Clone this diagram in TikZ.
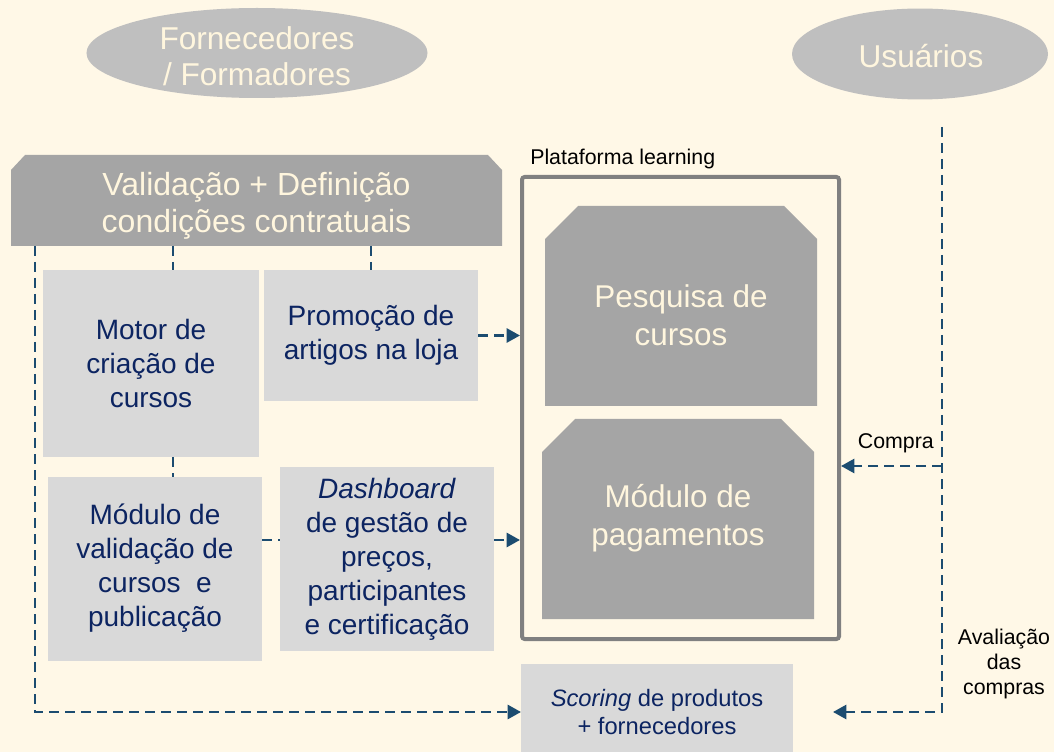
\documentclass[tikz,border=0pt]{standalone}
\usepackage{fontspec}
\setmainfont{Liberation Sans}
\usetikzlibrary{arrows.meta,backgrounds}
\definecolor{bgc}{RGB}{255,248,231}
\definecolor{ellg}{RGB}{191,191,191}
\definecolor{darkg}{RGB}{165,165,165}
\definecolor{lightg}{RGB}{217,217,217}
\definecolor{cream}{RGB}{255,246,222}
\definecolor{navy}{RGB}{12,36,97}
\definecolor{dashc}{RGB}{28,76,112}
\definecolor{framec}{RGB}{128,128,128}
\begin{document}
\begin{tikzpicture}[x=0.75pt,y=-0.75pt,
  lightbox/.style={fill=lightg, text=navy, inner sep=0pt, outer sep=0pt, align=center, font=\fontsize{21}{25.5}\selectfont},
  creamtxt/.style={text=cream, align=center, inner sep=0pt},
  dl/.style={draw=dashc, line width=2pt, dash pattern=on 7.5pt off 4.5pt},
  arr/.style={-{Triangle[length=10pt,width=10.5pt]}},
  lbl/.style={text=black, font=\fontsize{16}{18.75}\selectfont, inner sep=0pt, align=center}]
\useasboundingbox (0,0) rectangle (1054,752);
\begin{scope}[on background layer]
  \fill[bgc] (0,0) rectangle (1054,752);
\end{scope}
% ellipses
\fill[ellg] (257,53) ellipse [x radius=127.9pt, y radius=33.75pt];
\node[creamtxt, font=\fontsize{23.7}{27}\selectfont] (forn) at (257,56) {Fornecedores\\/ Formadores};
\fill[ellg] (920,54) ellipse [x radius=96pt, y radius=34.1pt];
\node[creamtxt, font=\fontsize{23.7}{27}\selectfont] (usu) at (921,56) {Usuários};
% top box
\node[creamtxt, outer sep=0pt, font=\fontsize{24}{27.75}\selectfont, minimum width=368.25pt, minimum height=68.25pt] (val) at (256.5,200.5)
  {\raisebox{-4.5pt}[\height][\depth]{\begin{tabular}{@{}c@{}}Validação + Definição\\condições contratuais\end{tabular}}};
\begin{scope}[on background layer]
  \fill[darkg] ([xshift=10.5pt]val.north west) -- ([xshift=-10.5pt]val.north east) -- ([yshift=-11.25pt]val.north east) -- (val.south east) -- (val.south west) -- ([yshift=-11.25pt]val.north west) -- cycle;
\end{scope}
% platform
\node[draw=framec, line width=3pt, rounded corners=2pt, minimum width=237.75pt, minimum height=346.5pt, inner sep=0pt] (plat) at (680.5,408) {};
\node[lbl, anchor=west] (platlbl) at (530,159) {Plataforma learning};
\fill[darkg] (578,206) -- (784,206) -- (817,239) -- (817,406) -- (545,406) -- (545,239) -- cycle;
\node[creamtxt, font=\fontsize{23.6}{28.5}\selectfont] (pesq) at (681,315) {Pesquisa de\\cursos};
\fill[darkg] (575,419) -- (781,419) -- (814,452) -- (814,619) -- (542,619) -- (542,452) -- cycle;
\node[creamtxt, font=\fontsize{23.6}{28.5}\selectfont] (pag) at (678,518) {Módulo de\\pagamentos};
% light boxes
\node[lightbox, minimum width=162pt, minimum height=140.25pt] (motor) at (151,363.5) {Motor de\\criação de\\cursos};
\node[lightbox, minimum width=160.5pt, minimum height=98.25pt] (promo) at (371,335.5) {Promoção de\\artigos na loja};
\node[lightbox, minimum width=160.5pt, minimum height=138pt] (modval) at (155,568.5) {Módulo de\\validação de\\cursos\ \ e\\publicação};
\node[lightbox, minimum width=160.5pt, minimum height=138pt] (dash) at (387,559) {\textit{Dashboard}\\de gestão de\\preços,\\participantes\\e certificação};
\node[lightbox, font=\fontsize{17.8}{21}\selectfont, minimum width=204pt, minimum height=72pt] (score) at (657,712) {\textit{Scoring} de produtos\\+ fornecedores};
% connectors
\coordinate (a0) at ([xshift=18pt]val.south west);
\draw[dl,arr] (a0) |- (score.west);
\coordinate (a1) at ([xshift=16.5pt]motor.north);
\draw[dl] (a1 |- val.south) -- (a1);
\draw[dl] (promo.north |- val.south) -- (promo.north);
\coordinate (a2) at ([xshift=16.5pt]motor.south);
\draw[dl] (a2) -- (a2 |- modval.north);
\draw[dl,arr] (promo.east) -- (promo.east -| plat.west);
\coordinate (a3) at ([yshift=21.4pt]modval.east);
\draw[dl] (a3) -- (a3 -| dash.west);
\coordinate (a4) at ([yshift=14.25pt]dash.east);
\draw[dl,arr] (a4) -- (a4 -| plat.west);
\coordinate (u0) at (942,127);
\coordinate (u1) at (833,712);
\draw[dl,arr] (u0) |- (u1);
\coordinate (u2) at (942,466);
\draw[dl,arr] (u2) -- (u2 -| plat.east);
\node[lbl, anchor=east] (compra) at (934,443) {Compra};
\node[lbl] (aval) at (1004,664) {Avaliação\\das\\compras};
\end{tikzpicture}
\end{document}
